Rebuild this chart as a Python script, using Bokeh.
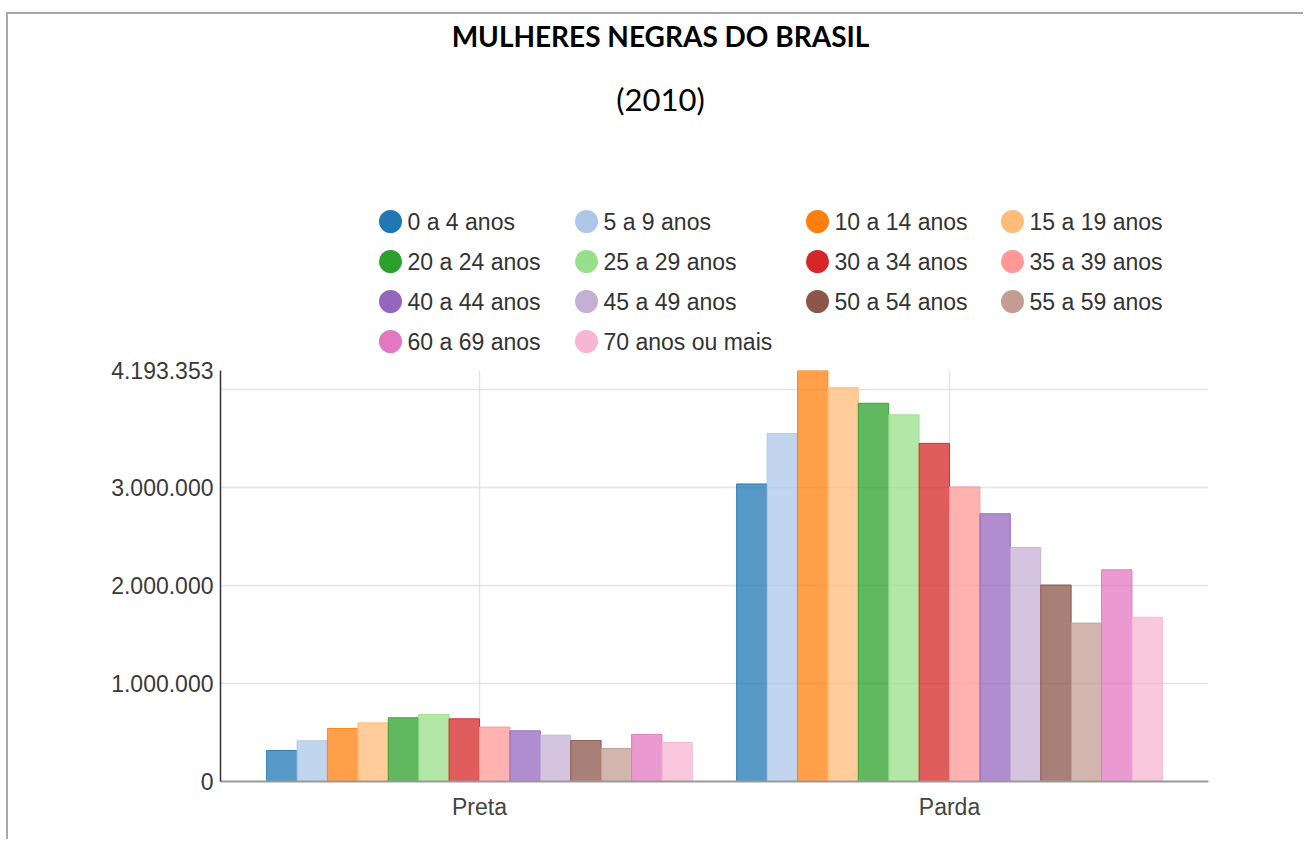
from bokeh.plotting import figure
from bokeh.models import ColumnDataSource, FactorRange, Range1d, FixedTicker
from bokeh.transform import dodge
from bokeh.layouts import column
from bokeh.embed import file_html
from bokeh.resources import INLINE
from bokeh.core.properties import value
from bokeh.palettes import Category20

# ---------------- data ----------------
title_text = "MULHERES NEGRAS DO BRASIL"
subtitle_text = "(2010)"
categories = ["Preta", "Parda"]
age_groups = ["0 a 4 anos", "5 a 9 anos", "10 a 14 anos", "15 a 19 anos",
              "20 a 24 anos", "25 a 29 anos", "30 a 34 anos", "35 a 39 anos",
              "40 a 44 anos", "45 a 49 anos", "50 a 54 anos", "55 a 59 anos",
              "60 a 69 anos", "70 anos ou mais"]
preta = [316000, 415000, 541000, 599000, 650000, 684000, 640000,
         555000, 517000, 473000, 418000, 337000, 480000, 398000]
parda = [3036000, 3551000, 4193353, 4018000, 3859000, 3741000, 3450000,
         3006000, 2732000, 2387000, 2005000, 1616000, 2160000, 1676000]
grid_ticks = [1000000, 2000000, 3000000, 4000000]
y_labelled = [0, 1000000, 2000000, 3000000]
y_max = 4193353
colors = list(Category20[20][:14])

# ---------------- styling constants ----------------
W = 1295
FONT = "Liberation Sans"
GRID = "#e4e4e4"
BAR_W = 0.0647
MB_LEFT, MB_RIGHT = 212, 95
FRAME_L, FRAME_R = 220, 1208      # page pixels of plot frame
HEAD_TOP, HEAD_BOT = 14, 356


def fmt(v):
    return f"{int(v):,}".replace(",", ".")


# ---------------- header (title + legend) ----------------
head = figure(width=W, height=HEAD_BOT - HEAD_TOP,
              x_range=Range1d(FRAME_L, FRAME_R), y_range=Range1d(HEAD_BOT, HEAD_TOP),
              x_axis_type=None, y_axis_type=None, output_backend="svg", toolbar_location=None,
              min_border_left=MB_LEFT, min_border_right=MB_RIGHT, min_border_top=0, min_border_bottom=0)
head.grid.visible = False
head.outline_line_color = None

head.text(x=[660], y=[35], text=[title_text], text_font=value("Lato"), text_font_style="bold",
          text_font_size="28px", text_align="center", text_baseline="middle", text_color="#000000")
head.text(x=[660], y=[98], text=[subtitle_text], text_font=value("Lato"),
          text_font_size="31px", text_align="center", text_baseline="middle", text_color="#000000")

leg_cols = [390, 586, 817, 1012]
leg_row0 = 221
leg_dy = 40
lx, ly, tx = [], [], []
for k in range(len(age_groups)):
    r, c = divmod(k, 4)
    lx.append(leg_cols[c])
    ly.append(leg_row0 + r * leg_dy)
    tx.append(leg_cols[c] + 17)
head.scatter(x=lx, y=ly, marker="circle", size=23, fill_color=colors, line_color=None)
head.text(x=tx, y=ly, text=age_groups, text_font=value(FONT), text_font_size="23px",
          text_align="left", text_baseline="middle", text_color="#333333")

# ---------------- chart ----------------
src_data = {"cat": categories}
for i, lab in enumerate(age_groups):
    src_data[lab] = [preta[i], parda[i]]
src = ColumnDataSource(src_data)

CH_H = 839 - HEAD_BOT
chart = figure(width=W, height=CH_H,
               x_range=FactorRange(factors=categories, range_padding=0.051, range_padding_units="absolute"),
               y_range=Range1d(0, y_max), output_backend="svg", toolbar_location=None,
               min_border_left=MB_LEFT, min_border_right=MB_RIGHT, min_border_top=370 - HEAD_BOT,
               min_border_bottom=839 - 781)
chart.outline_line_color = None

for i, (lab, col) in enumerate(zip(age_groups, colors)):
    chart.vbar(x=dodge("cat", (i - 6.5) * BAR_W, range=chart.x_range), top=lab, width=BAR_W,
               source=src, fill_color=col, fill_alpha=0.75, line_color=col, line_alpha=0.9, line_width=1)

chart.ygrid.ticker = FixedTicker(ticks=grid_ticks)
chart.ygrid.grid_line_color = GRID
chart.ygrid.grid_line_width = 1.5
chart.xgrid.grid_line_color = GRID
chart.xgrid.grid_line_width = 1.5

yax = chart.yaxis[0]
yax.ticker = FixedTicker(ticks=[0] + grid_ticks + [y_max])
overrides = {t: "" for t in grid_ticks}
for t in y_labelled + [y_max]:
    overrides[t] = fmt(t)
yax.major_label_overrides = overrides
yax.major_tick_line_color = None
yax.major_tick_out = 0
yax.major_tick_in = 0
yax.minor_tick_line_color = None
yax.axis_line_color = "#333333"
yax.axis_line_width = 1.5
yax.major_label_standoff = 7
yax.major_label_text_font = FONT
yax.major_label_text_font_size = "23px"
yax.major_label_text_color = "#3a3a3a"

xax = chart.xaxis[0]
xax.major_tick_line_color = None
xax.major_tick_out = 0
xax.major_tick_in = 0
xax.minor_tick_line_color = None
xax.axis_line_color = "#999999"
xax.axis_line_width = 2
xax.major_label_standoff = 12
xax.major_label_text_font = FONT
xax.major_label_text_font_size = "23px"
xax.major_label_text_color = "#444444"

layout = column(head, chart, spacing=0,
                styles={"border-top": "2px solid #aaa6a6", "border-left": "2px solid #aaa6a6",
                        "margin-top": "12px", "margin-left": "6px"})

open("out.html", "w").write(file_html(layout, INLINE))
